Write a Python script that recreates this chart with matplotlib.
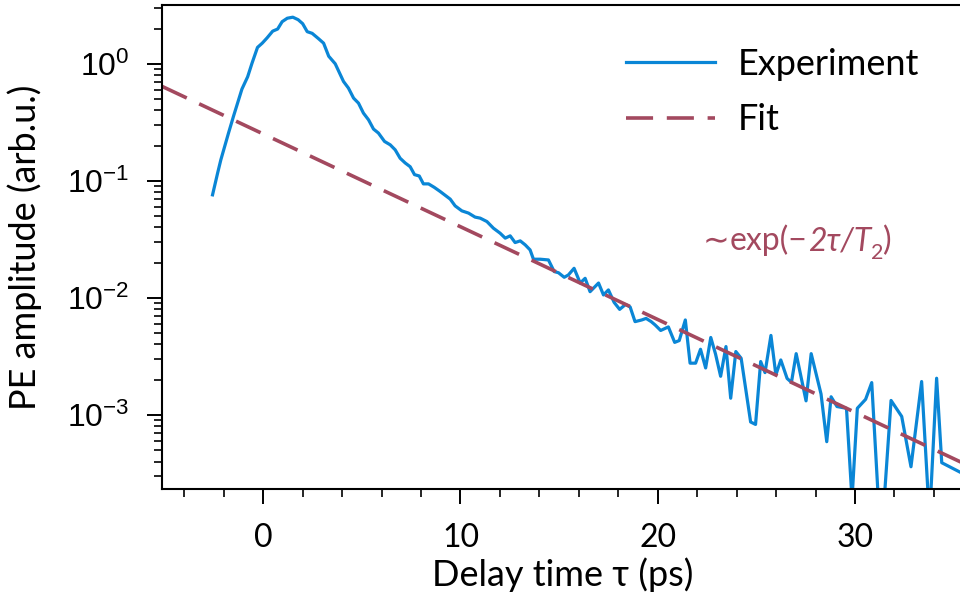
import matplotlib
matplotlib.use("Agg")
import matplotlib.pyplot as plt
from matplotlib.ticker import MultipleLocator, LogLocator, FixedLocator, NullFormatter
from matplotlib.transforms import ScaledTranslation
import numpy as np

plt.rcParams['font.family'] = ['Lato', 'DejaVu Sans']
plt.rcParams['mathtext.fontset'] = 'custom'
plt.rcParams['mathtext.rm'] = 'Liberation Sans'
plt.rcParams['mathtext.it'] = 'Liberation Sans:italic'
plt.rcParams['mathtext.fallback'] = 'stixsans'

# Experimental data: delay time (ps) and photon-echo amplitude (arb.u.)
tau = [-2.57, -2.31, -2.15, -1.76, -1.51, -1.25, -1.08, -0.79, -0.57, -0.29,
       -0.05, 0.19, 0.48, 0.73, 0.96, 1.22, 1.50, 1.77, 2.00, 2.23,
       2.48, 2.80, 3.06, 3.32, 3.65, 4.07, 4.32, 4.58, 4.83, 5.08,
       5.34, 5.59, 5.84, 6.15, 6.44, 6.69, 6.94, 7.20, 7.45, 7.67,
       7.91, 8.12, 8.38, 8.67, 8.97, 9.48, 9.73, 10.07, 10.41, 10.74,
       11.00, 11.34, 11.67, 12.01, 12.27, 12.52, 12.77, 13.03, 13.28, 13.53,
       13.70, 14.04, 14.46, 14.75, 14.97, 15.26, 15.47, 15.76, 16.07, 16.32,
       16.57, 17.00, 17.25, 17.50, 17.79, 18.07, 18.37, 18.60, 18.85, 19.19,
       19.41, 19.67, 19.87, 20.15, 20.54, 20.86, 21.09, 21.40, 21.64, 21.92,
       22.17, 22.43, 22.69, 22.93, 23.19, 23.46, 23.70, 23.96, 24.23, 24.71,
       24.96, 25.22, 25.44, 25.74, 25.99, 26.24, 26.56, 26.78, 27.02, 27.52,
       27.78, 28.28, 28.57, 28.79, 29.09, 29.57, 29.85, 30.12, 30.54, 30.85,
       31.32, 31.83, 32.37, 32.84, 33.38, 33.78, 34.14, 34.40, 35.40]
amp = [0.0759, 0.117, 0.151, 0.256, 0.355, 0.492, 0.608, 0.774, 1.01, 1.38,
       1.50, 1.66, 1.90, 1.98, 2.29, 2.45, 2.50, 2.38, 2.20, 1.88,
       1.82, 1.64, 1.50, 1.16, 1.00, 0.706, 0.620, 0.509, 0.461, 0.379,
       0.332, 0.277, 0.256, 0.217, 0.203, 0.184, 0.156, 0.142, 0.132, 0.113,
       0.110, 0.0942, 0.0942, 0.0880, 0.0811, 0.0698, 0.0611, 0.0554, 0.0530, 0.0490,
       0.0480, 0.0449, 0.0394, 0.0357, 0.0324, 0.0339, 0.0297, 0.0307, 0.0284, 0.0257,
       0.0214, 0.0214, 0.0211, 0.0168, 0.0164, 0.0150, 0.0157, 0.0179, 0.0134, 0.0147,
       0.0113, 0.0134, 0.0106, 0.0117, 0.00916, 0.00798, 0.00879, 0.00838, 0.00627, 0.00648,
       0.00668, 0.00627, 0.00587, 0.00527, 0.00565, 0.00417, 0.00432, 0.00648, 0.00277, 0.00277,
       0.00364, 0.00252, 0.00459, 0.00332, 0.00214, 0.00384, 0.00139, 0.00348, 0.00305, 0.000871,
       0.000830, 0.00286, 0.00230, 0.00478, 0.00220, 0.00295, 0.00205, 0.00190, 0.00334, 0.00132,
       0.00334, 0.00151, 0.000591, 0.00143, 0.00118, 0.00114, 0.000190, 0.00114, 0.00136, 0.00189,
       0.000075, 0.00133, 0.000971, 0.000361, 0.00193, 0.000128, 0.00206, 0.000391, 0.000320]

# Exponential fit (straight line on log axis), endpoints
fit_tau = [-5.12, 35.52]
fit_amp = [0.64, 0.000385]

x_major = [0, 10, 20, 30]
x_labels = ['0', '10', '20', '30']

blue = '#0A86D6'
fitc = '#A3495F'

fig = plt.figure(figsize=(9.6, 5.97), dpi=100)
ax = fig.add_axes([0.169, 0.181, 0.835, 0.811])

ax.plot(tau, amp, color=blue, lw=2.3, label='Experiment', solid_joinstyle='round')
ax.plot(fit_tau, fit_amp, color=fitc, lw=2.6, dashes=(7.5, 3.8), label='Fit')

ax.set_yscale('log')
ax.set_xlim(-5.12, 35.52)
ax.set_ylim(10 ** -3.632, 10 ** 0.504)

ax.xaxis.set_major_locator(FixedLocator(x_major))
ax.set_xticklabels(x_labels)
ax.xaxis.set_minor_locator(MultipleLocator(2))
ax.yaxis.set_major_locator(LogLocator(base=10, numticks=10))
ax.yaxis.set_minor_locator(LogLocator(base=10, subs=np.arange(2, 10), numticks=20))
ax.yaxis.set_minor_formatter(NullFormatter())

ax.tick_params(axis='both', which='major', direction='out', length=10.5, width=1.4, color='black')
ax.tick_params(axis='both', which='minor', direction='out', length=5.5, width=1.2, color='black')
ax.tick_params(axis='x', which='major', labelsize=23, pad=14)
ax.tick_params(axis='y', which='major', labelsize=23, pad=13,
               labelfontfamily='Liberation Sans')

for s in ax.spines.values():
    s.set_linewidth(1.5)
    s.set_color('black')

ax.set_xlabel('Delay time τ (ps)', fontsize=26, labelpad=3)
ax.set_ylabel('PE amplitude (arb.u.)', fontsize=26)
ax.yaxis.set_label_coords(-0.150, 0.5)

leg = ax.legend(loc='upper left', bbox_to_anchor=(626 / 960, 1 - 48 / 597),
                bbox_transform=fig.transFigure, frameon=False, fontsize=26,
                handlelength=2.46, handletextpad=0.64, labelspacing=0.62,
                borderpad=0, borderaxespad=0)

# Annotation "∼exp(−2τ/T₂)" assembled from styled pieces along one baseline
ann_x, ann_y = 22.3, 0.0255
pieces = [
    ('∼', dict(family='DejaVu Sans', fontsize=23), 0),
    ('exp(−', dict(family=['Lato', 'DejaVu Sans'], fontsize=23), 0),
    ('2τ/T', dict(family=['Lato', 'DejaVu Sans'], style='italic', fontsize=23), 0),
    ('2', dict(family=['Lato', 'DejaVu Sans'], fontsize=15.5), -6),
    (')', dict(family=['Lato', 'DejaVu Sans'], fontsize=23), 0),
]
fig.canvas.draw()
renderer = fig.canvas.get_renderer()
off_in = 0.0
for s, props, dy in pieces:
    t = ax.text(ann_x, ann_y, s, color=fitc, ha='left', va='baseline',
                transform=ax.transData + ScaledTranslation(off_in, dy / 72.0, fig.dpi_scale_trans),
                **props)
    off_in += t.get_window_extent(renderer=renderer).width / fig.dpi

fig.savefig('out.png', dpi=100)
